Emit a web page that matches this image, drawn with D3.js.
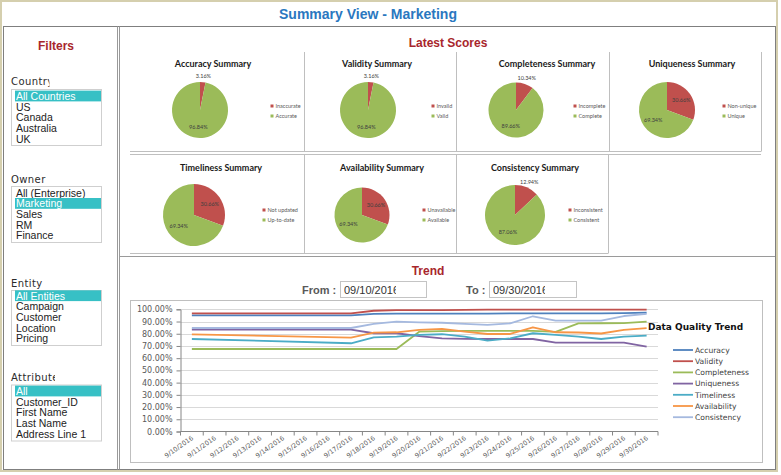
<!DOCTYPE html>
<html><head><meta charset="utf-8">
<script src="https://cdn.jsdelivr.net/npm/d3@7"></script>
<style>html,body{margin:0;padding:0;background:#fff;}svg{display:block}</style>
</head><body><svg id="c" width="781" height="475"></svg>
<script>
// ---------- DATA ----------
const filterGroups = ["Country", "Owner", "Entity", "Attribute"];
const countries = ["All Countries", "US", "Canada", "Australia", "UK"];
const owners = ["All (Enterprise)", "Marketing", "Sales", "RM", "Finance"];
const entities = ["All Entities", "Campaign", "Customer", "Location", "Pricing"];
const attributes = ["All", "Customer_ID", "First Name", "Last Name", "Address Line 1"];
const selectedIndex = [0, 1, 0, 0];

const pieTitles = ["Accuracy Summary", "Validity Summary", "Completeness Summary", "Uniqueness Summary",
  "Timeliness Summary", "Availability Summary", "Consistency Summary"];
const pieBadNames = ["Inaccurate", "Invalid", "Incomplete", "Non-unique", "Not updated", "Unavailable", "Inconsistent"];
const pieGoodNames = ["Accurate", "Valid", "Complete", "Unique", "Up-to-date", "Available", "Consistent"];
const pieBadValues = [3.16, 3.16, 10.34, 30.66, 30.66, 30.66, 12.94];
const pieGoodValues = [96.84, 96.84, 89.66, 69.34, 69.34, 69.34, 87.06];

const fromDate = "09/10/2016";
const toDate = "09/30/2016";

const dates = ["9/10/2016","9/11/2016","9/12/2016","9/13/2016","9/14/2016","9/15/2016","9/16/2016",
  "9/17/2016","9/18/2016","9/19/2016","9/20/2016","9/21/2016","9/22/2016","9/23/2016","9/24/2016",
  "9/25/2016","9/26/2016","9/27/2016","9/28/2016","9/29/2016","9/30/2016"];
const seriesNames = ["Accuracy", "Validity", "Completeness", "Uniqueness", "Timeliness", "Availability", "Consistency"];
const accuracy     = [95.1,null,null,null,null,null,null,95.1,96.3,96.4,96.4,96.5,96.5,96.5,96.6,96.6,96.6,96.7,96.7,96.9,97.3];
const validity     = [96.7,null,null,null,null,null,null,96.7,98.8,99.3,99.4,99.4,99.5,99.7,99.7,99.7,99.7,99.7,99.7,99.7,99.7];
const completeness = [67.5,null,null,null,null,null,null,67.5,67.5,67.5,81.7,82.2,82.4,82.4,82.4,82.3,81.5,88.5,88.6,88.7,89.9];
const uniqueness   = [83.3,null,null,null,null,null,null,83.3,80.4,80.4,78.1,76.2,75.8,75.7,75.7,75.7,72.7,72.7,72.7,72.7,69.4];
const timeliness   = [75.7,null,null,null,null,null,null,72.2,77.1,77.6,79.0,79.6,77.6,74.3,76.2,80.4,79.0,77.6,75.7,77.6,78.4];
const availability = [79.5,null,null,null,null,null,null,76.8,80.9,81.2,83.2,84.0,81.7,79.8,79.8,85.3,81.2,81.0,80.2,83.2,84.6];
const consistency  = [84.7,null,null,null,null,null,null,84.7,88.0,89.9,89.3,89.0,88.0,87.2,88.5,94.3,90.7,90.7,90.8,94.5,96.2];
const yTicks = [0, 10, 20, 30, 40, 50, 60, 70, 80, 90, 100];

// ---------- STYLE / LAYOUT ----------
const C = {
  frame: "#d5cfae", box: "#7f7f7f", sep: "#bfbfbf", grid: "#d9d9d9", axis: "#868686",
  title: "#2a77c0", red: "#a8262c", teal: "#37c0c5", green: "#9bbb59", bad: "#c0504d"
};
const seriesColors = ["#4f81bd", "#c0504d", "#9bbb59", "#8064a2", "#4bacc6", "#f79646", "#a5b9df"];
const filterLayout = [
  {labelY: 81, clipX: 49.5, boxTop: 89.5, boxBottom: 145.5, firstY: 96},
  {labelY: 179, clipX: 46, boxTop: 186.5, boxBottom: 242.5, firstY: 192.7},
  {labelY: 283.3, clipX: 60, boxTop: 290.5, boxBottom: 345.5, firstY: 295.7},
  {labelY: 376.7, clipX: 55, boxTop: 385, boxBottom: 441, firstY: 391}
];
const pieLayout = [
  {cx: 200, cy: 110, r: 28, tx: 213, ty: 63.5, lx: 272, ly: 106},
  {cx: 368, cy: 110, r: 28, tx: 377, ty: 63.5, lx: 433, ly: 106},
  {cx: 516, cy: 110, r: 27.5, tx: 547, ty: 63.5, lx: 575, ly: 106},
  {cx: 667, cy: 110, r: 28, tx: 692, ty: 63.5, lx: 724, ly: 106},
  {cx: 194, cy: 215, r: 31, tx: 221, ty: 167.5, lx: 264, ly: 210},
  {cx: 362, cy: 215, r: 27.5, tx: 382, ty: 167.5, lx: 424, ly: 210},
  {cx: 515, cy: 215, r: 30, tx: 535, ty: 167.5, lx: 570, ly: 210}
];

const svg = d3.select("#c");
const defs = svg.append("defs");

// outer frame & boxes
svg.append("rect").attr("x", 1).attr("y", 1).attr("width", 776).attr("height", 470)
  .attr("fill", "#fff").attr("stroke", C.frame).attr("stroke-width", 2);
svg.append("rect").attr("x", 3.5).attr("y", 26.5).attr("width", 772).attr("height", 443)
  .attr("fill", "none").attr("stroke", C.box);
svg.append("line").attr("x1", 117.5).attr("x2", 117.5).attr("y1", 26.5).attr("y2", 469.5).attr("stroke", "#9a9a9a");
svg.append("line").attr("x1", 119.5).attr("x2", 119.5).attr("y1", 26.5).attr("y2", 469.5).attr("stroke", "#9a9a9a");

// title
svg.append("text").attr("x", 368).attr("y", 19).attr("text-anchor", "middle")
  .attr("font-family", "Liberation Sans, Arial, sans-serif").attr("font-weight", "bold").attr("font-size", 14)
  .attr("fill", C.title).text("Summary View - Marketing");

// ---------- FILTERS ----------
svg.append("text").attr("x", 56).attr("y", 50).attr("text-anchor", "middle")
  .attr("font-family", "Liberation Sans, Arial, sans-serif").attr("font-weight", "bold").attr("font-size", 12)
  .attr("fill", C.red).text("Filters");

const lists = [countries, owners, entities, attributes];
lists.forEach((items, gi) => {
  const L = filterLayout[gi];
  const cid = "clipf" + gi;
  defs.append("clipPath").attr("id", cid).append("rect").attr("x", 0).attr("y", L.labelY - 12).attr("width", L.clipX).attr("height", 20);
  svg.append("text").attr("x", 11).attr("y", L.labelY + 4).attr("clip-path", `url(#${cid})`)
    .attr("font-family", "DejaVu Sans, Verdana, sans-serif").attr("font-size", 10).attr("letter-spacing", 0.4)
    .attr("fill", "#2b2b2b").text(filterGroups[gi]);
  svg.append("rect").attr("x", 11.5).attr("y", L.boxTop).attr("width", 90).attr("height", L.boxBottom - L.boxTop)
    .attr("fill", "#fff").attr("stroke", "#cfcfcf");
  const g = svg.append("g");
  items.forEach((t, i) => {
    const y = L.firstY + i * 10.7;
    const sel = i === selectedIndex[gi];
    if (sel) g.append("rect").attr("x", 15).attr("y", y - 5.4).attr("width", 86).attr("height", 10.8).attr("fill", C.teal);
    g.append("text").attr("x", 16).attr("y", y + 3.8)
      .attr("font-family", "Liberation Sans, Arial, sans-serif").attr("font-size", 10.5)
      .attr("fill", sel ? "#fff" : "#222").text(t);
  });
});

// ---------- LATEST SCORES ----------
svg.append("text").attr("x", 448).attr("y", 47).attr("text-anchor", "middle")
  .attr("font-family", "Liberation Sans, Arial, sans-serif").attr("font-weight", "bold").attr("font-size", 12)
  .attr("fill", C.red).text("Latest Scores");

const sepG = svg.append("g").attr("stroke", C.sep).attr("fill", "none");
sepG.append("line").attr("x1", 130).attr("x2", 761).attr("y1", 151.5).attr("y2", 151.5);
sepG.append("line").attr("x1", 130).attr("x2", 761).attr("y1", 154.5).attr("y2", 154.5);
[304.5, 456.5, 609.5].forEach(x => sepG.append("line").attr("x1", x).attr("x2", x).attr("y1", 52).attr("y2", 151.5));
sepG.append("line").attr("x1", 761.5).attr("x2", 761.5).attr("y1", 52).attr("y2", 151.5);
[304.5, 456.5, 608.5].forEach(x => sepG.append("line").attr("x1", x).attr("x2", x).attr("y1", 154.5).attr("y2", 253.5));
sepG.append("line").attr("x1", 130).attr("x2", 608).attr("y1", 253.5).attr("y2", 253.5);
sepG.append("line").attr("x1", 120).attr("x2", 775).attr("y1", 256.5).attr("y2", 256.5).attr("stroke", "#9a9a9a");

const pie = d3.pie().sort(null).value(d => d);
pieTitles.forEach((title, k) => {
  const P = pieLayout[k];
  const g = svg.append("g").attr("transform", `translate(${P.cx},${P.cy})`);
  const vals = [pieBadValues[k], pieGoodValues[k]];
  const arcs = pie(vals);
  const arc = d3.arc().innerRadius(0).outerRadius(P.r);
  g.selectAll("path").data(arcs).join("path").attr("d", arc)
    .attr("fill", (d, i) => i === 0 ? C.bad : C.green);
  arcs.forEach((a, i) => {
    let rr;
    if (i === 0) rr = a.data < 15 ? P.r + 6 : P.r * 0.62;
    else rr = P.r * 0.6;
    const lab = d3.arc().innerRadius(rr).outerRadius(rr);
    const [x, y] = lab.centroid(a);
    g.append("text").attr("x", x).attr("y", y + 2)
      .attr("text-anchor", "middle").attr("font-family", "Lato, sans-serif").attr("font-size", 5.5)
      .attr("fill", "#404040").text(a.data.toFixed(2) + "%");
  });
  svg.append("text").attr("x", P.tx).attr("y", P.ty + 3).attr("text-anchor", "middle")
    .attr("font-family", "Lato, sans-serif").attr("font-weight", "bold").attr("font-size", 9)
    .attr("fill", "#1a1a1a").text(title);
  [pieBadNames[k], pieGoodNames[k]].forEach((nm, i) => {
    const y = P.ly + i * 10;
    svg.append("rect").attr("x", P.lx - 1.5).attr("y", y - 1.5).attr("width", 3).attr("height", 3)
      .attr("fill", i === 0 ? C.bad : C.green);
    svg.append("text").attr("x", P.lx + 3.5).attr("y", y + 2).attr("font-family", "Lato, sans-serif")
      .attr("font-size", 5.5).attr("fill", "#595959").text(nm);
  });
});

// ---------- TREND ----------
svg.append("text").attr("x", 428).attr("y", 275).attr("text-anchor", "middle")
  .attr("font-family", "Liberation Sans, Arial, sans-serif").attr("font-weight", "bold").attr("font-size", 12)
  .attr("fill", C.red).text("Trend");

function dateBox(label, lx, bx, bw, val, clipW, id) {
  svg.append("text").attr("x", lx).attr("y", 294).attr("font-family", "Liberation Sans, Arial, sans-serif")
    .attr("font-weight", "bold").attr("font-size", 11).attr("fill", "#595959").text(label);
  svg.append("rect").attr("x", bx + 0.5).attr("y", 281.5).attr("width", bw).attr("height", 16)
    .attr("fill", "#fff").attr("stroke", "#c4c4c4");
  defs.append("clipPath").attr("id", id).append("rect").attr("x", bx + 4).attr("y", 280).attr("width", clipW).attr("height", 20);
  svg.append("text").attr("x", bx + 4).attr("y", 293.5).attr("clip-path", `url(#${id})`)
    .attr("font-family", "Liberation Sans, Arial, sans-serif").attr("font-size", 11).attr("fill", "#333").text(val);
}
dateBox("From :", 302, 340, 86, fromDate, 52, "cf1");
dateBox("To :", 466, 489, 87, toDate, 52, "cf2");

svg.append("rect").attr("x", 130.5).attr("y", 300.5).attr("width", 632).attr("height", 162)
  .attr("fill", "#fff").attr("stroke", C.sep);

const x = d3.scaleBand().domain(dates).range([180.5, 658]).padding(0);
const y = d3.scaleLinear().domain([0, 100]).range([431.5, 309.3]);
const xc = d => x(d) + x.bandwidth() / 2;

const gridG = svg.append("g");
gridG.selectAll("line").data(yTicks.filter(t => t > 0)).join("line")
  .attr("x1", 180.5).attr("x2", 658).attr("y1", d => Math.round(y(d)) + 0.5).attr("y2", d => Math.round(y(d)) + 0.5)
  .attr("stroke", C.grid);

const yAxis = svg.append("g").attr("transform", "translate(180.5,0)")
  .call(d3.axisLeft(y).tickValues(yTicks).tickSize(4).tickFormat(d => d.toFixed(2) + "%"));
yAxis.select(".domain").attr("stroke", C.axis);
yAxis.selectAll(".tick line").attr("stroke", C.axis);
yAxis.selectAll("text").attr("font-family", "DejaVu Sans, Verdana, sans-serif").attr("font-size", 8)
  .attr("fill", "#595959").attr("x", -8);

svg.append("line").attr("x1", 180.5).attr("x2", 658).attr("y1", 431.5).attr("y2", 431.5).attr("stroke", C.axis);
svg.append("g").selectAll("line").data(dates.concat(["end"])).join("line")
  .attr("x1", (d, i) => 180.5 + i * x.bandwidth()).attr("x2", (d, i) => 180.5 + i * x.bandwidth())
  .attr("y1", 431.5).attr("y2", 435.5).attr("stroke", C.axis);
svg.append("g").selectAll("text").data(dates).join("text")
  .attr("transform", d => `translate(${xc(d) + 2},${439}) rotate(-35)`)
  .attr("text-anchor", "end").attr("font-family", "DejaVu Sans, Verdana, sans-serif").attr("font-size", 6.5)
  .attr("fill", "#595959").text(d => d);

const seriesData = [accuracy, validity, completeness, uniqueness, timeliness, availability, consistency];
const line = d3.line().x(d => xc(d.date)).y(d => y(d.v));
seriesData.forEach((arr, s) => {
  const pts = arr.map((v, i) => ({date: dates[i], v})).filter(d => d.v !== null);
  svg.append("path").attr("d", line(pts)).attr("fill", "none")
    .attr("stroke", seriesColors[s]).attr("stroke-width", 1.8).attr("stroke-linejoin", "round");
});

svg.append("text").attr("x", 648).attr("y", 330).attr("font-family", "DejaVu Sans, Verdana, sans-serif")
  .attr("font-weight", "bold").attr("font-size", 9).attr("fill", "#111").text("Data Quality Trend");
seriesNames.forEach((nm, i) => {
  const ly = 350 + i * 11.2;
  svg.append("line").attr("x1", 673).attr("x2", 693).attr("y1", ly).attr("y2", ly)
    .attr("stroke", seriesColors[i]).attr("stroke-width", 1.8);
  svg.append("text").attr("x", 695).attr("y", ly + 2.8).attr("font-family", "DejaVu Sans, Verdana, sans-serif")
    .attr("font-size", 7.6).attr("fill", "#404040").text(nm);
});
</script></body></html>
